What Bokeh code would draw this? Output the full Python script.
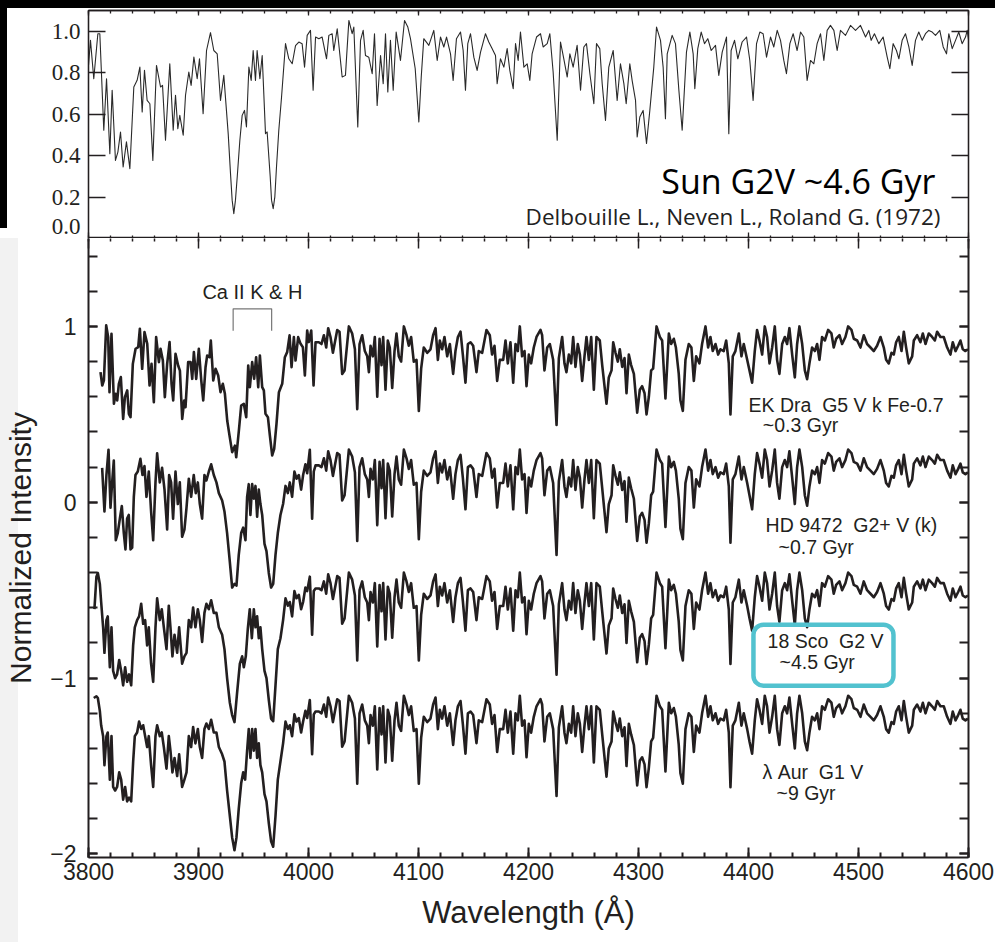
from bokeh.plotting import figure
from bokeh.models import (Range1d, LinearAxis, SingleIntervalTicker, FixedTicker,
                          CustomJSTickFormatter, BoxAnnotation, Div, Label)
from bokeh.layouts import column, row
from bokeh.embed import file_html
from bokeh.resources import INLINE

# ---------------- DATA ----------------
# Solar atlas (top panel), wavelength in Angstrom, normalized flux
sun_wl = [
    3800.0, 3801.8, 3804.8, 3808.5, 3810.3, 3813.9, 3816.4, 3819.4, 3821.5, 3824.5,
    3826.7, 3829.1, 3831.5, 3834.5, 3837.6, 3841.2, 3844.2, 3846.7, 3848.8, 3850.9,
    3853.3, 3855.8, 3858.5, 3861.8, 3865.5, 3867.3, 3870.0, 3873.9, 3877.0, 3879.1,
    3881.2, 3883.0, 3886.1, 3888.2, 3891.2, 3893.3, 3895.8, 3898.8, 3900.9, 3904.2,
    3907.3, 3910.9, 3913.9, 3917.0, 3920.0, 3923.0, 3927.0, 3929.1, 3930.6, 3932.1,
    3933.6, 3935.2, 3937.6, 3939.7, 3941.8, 3943.6, 3945.8, 3947.9, 3949.7, 3951.8,
    3953.3, 3955.8, 3957.9, 3960.9, 3962.4, 3965.2, 3966.4, 3967.9, 3969.4, 3970.9,
    3973.0, 3975.5, 3979.1, 3982.1, 3985.2, 3988.2, 3991.2, 3994.2, 3996.4, 3998.8,
    4001.8, 4004.2, 4006.4, 4009.4, 4012.4, 4016.4, 4018.5, 4021.5, 4023.0, 4026.1,
    4030.6, 4033.6, 4036.7, 4039.7, 4041.2, 4044.8, 4047.3, 4049.7, 4051.8, 4054.8,
    4057.9, 4060.0, 4062.4, 4065.5, 4067.9, 4070.0, 4072.1, 4074.5, 4077.0, 4079.7,
    4083.6, 4087.3, 4090.3, 4092.7, 4097.0, 4100.3, 4102.5, 4104.8, 4109.4, 4113.9,
    4117.0, 4120.0, 4123.0, 4125.5, 4129.1, 4131.5, 4134.5, 4138.2, 4140.6, 4142.7,
    4144.8, 4147.3, 4150.3, 4153.3, 4156.4, 4160.9, 4163.9, 4167.0, 4170.0, 4171.5,
    4174.5, 4177.6, 4180.6, 4183.0, 4186.1, 4188.2, 4190.6, 4192.7, 4195.8, 4198.8,
    4201.2, 4203.3, 4207.3, 4210.9, 4213.3, 4217.0, 4219.4, 4222.4, 4226.1, 4229.1,
    4232.1, 4235.2, 4237.6, 4240.6, 4244.2, 4247.3, 4250.3, 4252.7, 4255.8, 4259.4,
    4261.8, 4264.8, 4267.0, 4270.0, 4273.0, 4277.0, 4280.6, 4283.6, 4286.7, 4288.8,
    4292.1, 4294.2, 4297.3, 4298.8, 4301.2, 4304.2, 4307.3, 4310.3, 4313.9, 4316.4,
    4320.0, 4322.4, 4324.5, 4326.1, 4330.6, 4333.6, 4336.7, 4339.7, 4343.6, 4346.7,
    4349.7, 4351.2, 4353.9, 4357.0, 4360.0, 4363.0, 4366.1, 4370.0, 4373.0, 4376.1,
    4380.0, 4382.1, 4384.2, 4387.3, 4390.3, 4394.2, 4398.2, 4401.2, 4404.2, 4407.3,
    4410.3, 4413.3, 4416.4, 4420.0, 4423.0, 4426.1, 4429.1, 4432.1, 4434.5, 4437.6,
    4440.6, 4444.2, 4447.3, 4450.3, 4453.3, 4456.4, 4459.4, 4462.4, 4465.5, 4468.5,
    4471.5, 4474.5, 4477.6, 4480.6, 4483.6, 4488.2, 4492.7, 4497.3, 4501.8, 4506.4,
    4509.4, 4511.5, 4514.5, 4518.5, 4522.4, 4526.1, 4528.5, 4531.5, 4534.5, 4536.7,
    4539.7, 4542.7, 4545.8, 4548.8, 4551.8, 4554.8, 4557.9, 4560.9, 4563.9, 4567.0,
    4570.0, 4573.9, 4577.0, 4580.0, 4582.1, 4585.2, 4588.2, 4591.2, 4594.2, 4597.3,
    4598.8, 4600.0,
]
sun_flux = [
    0.835, 0.956, 0.771, 0.988, 0.988, 0.522, 0.771, 0.409, 0.715, 0.377,
    0.417, 0.514, 0.345, 0.466, 0.337, 0.731, 0.763, 0.827, 0.610, 0.811,
    0.666, 0.650, 0.377, 0.835, 0.731, 0.739, 0.474, 0.843, 0.522, 0.691,
    0.530, 0.594, 0.498, 0.691, 0.803, 0.739, 0.875, 0.771, 0.867, 0.602,
    0.907, 0.993, 0.907, 0.891, 0.666, 0.787, 0.506, 0.313, 0.185, 0.120,
    0.185, 0.297, 0.474, 0.594, 0.618, 0.538, 0.827, 0.763, 0.907, 0.763,
    0.907, 0.771, 0.883, 0.506, 0.514, 0.297, 0.185, 0.144, 0.201, 0.345,
    0.522, 0.683, 0.940, 0.867, 0.843, 0.931, 0.948, 0.940, 0.827, 0.980,
    1.004, 0.715, 0.972, 0.964, 0.972, 0.867, 0.980, 0.988, 0.907, 1.012,
    0.779, 0.787, 1.052, 0.988, 1.020, 0.538, 0.956, 1.004, 0.883, 0.875,
    0.795, 0.988, 0.642, 0.883, 0.747, 0.988, 0.707, 0.956, 0.715, 0.996,
    0.859, 1.052, 1.020, 0.964, 0.820, 0.562, 0.780, 0.964, 0.932, 1.004,
    0.859, 0.972, 0.924, 0.972, 0.891, 0.763, 0.964, 0.996, 0.907, 0.715,
    0.940, 0.988, 0.875, 0.811, 0.899, 0.988, 0.948, 0.916, 0.883, 0.747,
    0.867, 0.827, 0.916, 0.811, 0.723, 0.940, 0.859, 0.996, 0.827, 0.843,
    0.763, 0.891, 0.972, 0.988, 0.924, 0.940, 0.988, 0.803, 0.474, 0.948,
    0.867, 0.779, 0.891, 0.827, 0.932, 0.715, 0.924, 0.940, 0.795, 0.650,
    0.940, 0.916, 0.747, 0.570, 0.827, 0.907, 0.666, 0.843, 0.747, 0.650,
    0.843, 0.763, 0.666, 0.490, 0.586, 0.618, 0.458, 0.618, 0.827, 1.020,
    0.956, 0.827, 0.578, 0.891, 0.980, 0.940, 0.715, 0.522, 0.899, 0.996,
    0.891, 0.723, 0.916, 0.996, 0.940, 0.964, 0.907, 0.932, 0.787, 0.899,
    0.972, 0.506, 0.907, 0.956, 0.867, 0.948, 0.972, 0.859, 0.666, 0.940,
    0.996, 0.988, 0.875, 0.972, 0.924, 1.004, 0.956, 0.859, 0.795, 0.940,
    0.988, 0.907, 0.996, 0.972, 0.763, 0.859, 0.843, 0.940, 0.988, 0.859,
    1.004, 1.028, 1.004, 0.907, 1.004, 0.980, 1.028, 1.004, 1.028, 0.972,
    1.004, 0.956, 0.988, 0.940, 0.972, 0.875, 0.819, 0.940, 0.907, 0.867,
    0.956, 0.988, 0.924, 0.835, 0.956, 0.996, 0.956, 0.988, 1.004, 0.996,
    0.980, 1.004, 0.924, 0.891, 0.988, 0.916, 0.956, 0.996, 0.940, 0.972,
    1.004, 0.960,
]

# Stellar spectra (bottom panel) - blue part, each star read separately
ek_blue_wl = [
    3810.9, 3812.5, 3814.0, 3816.1, 3817.9, 3819.1, 3820.9, 3823.1, 3824.6, 3826.1,
    3827.6, 3829.4, 3831.5, 3833.1, 3835.2, 3836.7, 3838.2, 3840.3, 3842.8, 3845.2,
    3846.7, 3848.8, 3850.9, 3853.4, 3855.5, 3857.3, 3859.4, 3861.5, 3864.0, 3865.5,
    3867.6, 3869.4, 3871.5, 3873.7, 3875.5, 3877.0, 3879.1, 3881.5, 3883.1, 3885.2,
    3887.0, 3888.2, 3890.6, 3892.8, 3894.3, 3895.8, 3897.9, 3900.3, 3902.5, 3904.3,
    3906.4, 3907.9, 3910.0, 3911.2, 3913.4, 3915.5, 3917.9, 3920.0, 3922.1, 3924.0,
    3926.1, 3928.2, 3930.6, 3933.1, 3934.3, 3936.7, 3938.8, 3941.2, 3943.4, 3945.2,
    3946.7, 3948.8, 3950.6, 3952.4, 3954.3, 3955.8, 3957.9, 3959.4, 3960.9, 3963.1,
    3964.9, 3967.0, 3968.8, 3970.9, 3973.1, 3976.1, 3978.5, 3980.6, 3982.8, 3984.6,
    3986.7, 3988.2, 3990.6, 3992.8, 3994.9, 3996.7, 3998.8, 4000.3, 4002.5, 4004.6,
]
ek_blue_flux = [
    0.740, 0.664, 0.693, 1.006, 0.939, 0.626, 0.958, 0.560, 0.617, 0.579,
    0.674, 0.712, 0.474, 0.598, 0.636, 0.503, 0.484, 0.787, 0.873, 0.882,
    0.987, 0.759, 0.968, 0.901, 0.664, 0.787, 0.569, 0.939, 0.797, 0.873,
    0.806, 0.598, 0.787, 0.911, 0.674, 0.579, 0.844, 0.778, 0.749, 0.474,
    0.579, 0.541, 0.797, 0.797, 0.702, 0.854, 0.702, 0.873, 0.693, 0.579,
    0.768, 0.835, 0.825, 0.920, 0.693, 0.759, 0.721, 0.626, 0.674, 0.617,
    0.465, 0.379, 0.285, 0.322, 0.256, 0.408, 0.550, 0.560, 0.484, 0.778,
    0.655, 0.797, 0.702, 0.825, 0.655, 0.835, 0.655, 0.636, 0.503, 0.484,
    0.379, 0.266, 0.304, 0.446, 0.626, 0.674, 0.825, 0.854, 0.949, 0.768,
    0.939, 0.806, 0.939, 0.901, 0.882, 0.721, 0.977, 0.911, 0.977, 0.664,
]
hd_blue_wl = [
    3812.4, 3814.5, 3816.3, 3818.2, 3820.0, 3821.5, 3823.0, 3824.8, 3826.6, 3828.5,
    3830.3, 3832.1, 3833.6, 3835.1, 3836.6, 3838.2, 3839.7, 3841.2, 3842.7, 3844.8,
    3847.2, 3849.1, 3850.9, 3852.7, 3854.8, 3856.9, 3858.8, 3860.9, 3862.4, 3864.8,
    3866.9, 3869.1, 3871.5, 3873.3, 3875.1, 3876.9, 3879.1, 3881.2, 3883.0, 3885.1,
    3887.2, 3889.1, 3891.2, 3893.3, 3895.7, 3897.5, 3899.4, 3901.2, 3903.3, 3905.4,
    3907.2, 3909.4, 3911.5, 3913.9, 3916.3, 3918.5, 3921.5, 3923.6, 3926.0, 3928.5,
    3930.6, 3932.7, 3934.5, 3936.6, 3938.8, 3940.6, 3942.7, 3944.2, 3945.7, 3947.2,
    3948.8, 3950.3, 3951.8, 3953.3, 3954.8, 3956.3, 3957.9, 3960.0, 3961.8, 3963.9,
    3966.0, 3967.9, 3970.0, 3972.1, 3974.5, 3976.9, 3979.1, 3981.2, 3983.0, 3985.1,
    3987.2, 3989.1, 3991.2, 3993.3, 3995.1, 3997.2, 3998.8, 4001.2, 4003.3, 4004.8,
]
hd_blue_flux = [
    0.196, -0.052, 0.155, 0.299, -0.031, 0.113, 0.237, -0.216, -0.175, -0.093,
    -0.021, -0.175, -0.268, -0.093, -0.072, -0.268, -0.258, 0.031, 0.155, 0.175,
    0.247, 0.155, 0.206, 0.031, 0.175, -0.052, -0.216, 0.113, 0.278, 0.113,
    0.196, 0.072, -0.155, 0.155, 0.113, -0.093, 0.175, -0.010, 0.113, -0.196,
    -0.155, -0.031, 0.134, 0.031, 0.155, 0.052, 0.113, -0.010, -0.093, 0.155,
    0.124, 0.175, 0.216, 0.155, 0.113, 0.052, 0.010, -0.052, -0.175, -0.340,
    -0.485, -0.464, -0.474, -0.299, -0.175, -0.144, -0.216, 0.031, 0.103, -0.072,
    0.103, 0.021, 0.093, -0.082, 0.072, -0.010, -0.072, -0.237, -0.278, -0.402,
    -0.485, -0.464, -0.299, -0.175, -0.072, -0.010, 0.093, 0.052, 0.113, 0.031,
    0.175, 0.134, 0.155, 0.072, 0.155, 0.216, 0.165, 0.299, -0.093, 0.175,
]
sco_blue_wl = [
    3805.4, 3807.2, 3808.5, 3810.3, 3811.5, 3813.3, 3814.5, 3816.3, 3817.5, 3819.4,
    3820.9, 3822.4, 3824.2, 3826.0, 3827.9, 3829.7, 3831.5, 3833.3, 3835.1, 3836.9,
    3838.8, 3840.6, 3842.1, 3844.2, 3846.0, 3847.9, 3849.7, 3851.5, 3853.3, 3854.8,
    3856.9, 3858.8, 3860.9, 3862.4, 3864.8, 3866.6, 3868.5, 3870.9, 3873.0, 3874.5,
    3876.3, 3878.2, 3880.6, 3882.4, 3885.1, 3887.2, 3889.1, 3891.2, 3893.3, 3895.1,
    3897.2, 3899.4, 3901.2, 3903.3, 3905.4, 3907.2, 3909.4, 3911.5, 3913.9, 3916.3,
    3918.5, 3921.5, 3923.6, 3926.0, 3928.5, 3930.6, 3932.7, 3935.1, 3937.6, 3939.7,
    3941.2, 3943.0, 3944.8, 3946.6, 3948.5, 3950.3, 3951.8, 3953.3, 3954.8, 3956.3,
    3957.9, 3960.0, 3961.8, 3963.9, 3966.0, 3967.9, 3970.0, 3972.1, 3974.5, 3976.9,
    3979.1, 3981.2, 3983.0, 3985.1, 3987.2, 3989.1, 3991.2, 3993.3, 3995.1, 3997.2,
    3998.8, 4001.2, 4003.3, 4004.8,
]
sco_blue_flux = [
    -0.608, -0.423, -0.402, -0.464, -0.567, -0.711, -0.856, -0.670, -0.649, -0.938,
    -0.711, -0.959, -1.000, -0.979, -0.897, -0.959, -1.041, -0.938, -1.021, -0.979,
    -1.041, -0.814, -0.711, -0.670, -0.649, -0.577, -0.691, -0.670, -0.814, -0.711,
    -0.918, -1.021, -0.711, -0.546, -0.670, -0.608, -0.711, -0.835, -0.588, -0.711,
    -0.876, -0.753, -0.856, -0.711, -0.918, -0.876, -0.856, -0.670, -0.711, -0.598,
    -0.711, -0.608, -0.670, -0.794, -0.629, -0.577, -0.608, -0.557, -0.629, -0.629,
    -0.711, -0.753, -0.835, -1.000, -1.140, -1.210, -1.250, -1.082, -0.918, -0.876,
    -0.938, -0.876, -0.722, -0.608, -0.773, -0.608, -0.711, -0.649, -0.773, -0.711,
    -0.835, -0.959, -1.000, -1.124, -1.230, -1.245, -1.041, -0.835, -0.773, -0.670,
    -0.546, -0.588, -0.567, -0.649, -0.505, -0.546, -0.526, -0.608, -0.567, -0.485,
    -0.505, -0.423, -0.753, -0.505,
]
aur_blue_wl = [
    3804.8, 3807.2, 3808.5, 3810.3, 3811.5, 3813.3, 3814.5, 3816.3, 3817.5, 3819.4,
    3820.9, 3822.4, 3824.2, 3826.0, 3827.9, 3829.7, 3831.5, 3833.3, 3835.1, 3836.9,
    3838.8, 3840.6, 3842.1, 3844.2, 3846.0, 3847.9, 3849.7, 3851.5, 3853.3, 3854.8,
    3856.9, 3858.8, 3860.9, 3862.4, 3864.8, 3866.6, 3868.5, 3870.9, 3873.0, 3874.5,
    3876.3, 3878.2, 3880.6, 3882.4, 3885.1, 3887.2, 3889.1, 3891.2, 3893.3, 3895.1,
    3897.2, 3899.4, 3901.2, 3903.3, 3905.4, 3907.2, 3909.4, 3911.5, 3913.9, 3916.3,
    3918.5, 3921.5, 3923.6, 3926.0, 3928.5, 3930.6, 3932.7, 3934.5, 3936.6, 3938.8,
    3940.6, 3942.4, 3944.2, 3945.7, 3947.2, 3948.8, 3950.3, 3951.8, 3953.3, 3954.8,
    3956.3, 3957.9, 3960.0, 3961.8, 3963.9, 3966.0, 3967.9, 3970.0, 3972.1, 3974.5,
    3976.9, 3979.1, 3981.2, 3983.0, 3985.1, 3987.2, 3989.1, 3991.2, 3993.3, 3995.1,
    3997.2, 3998.8, 4001.2, 4003.3, 4004.8,
]
aur_blue_flux = [
    -1.113, -1.103, -1.113, -1.186, -1.268, -1.330, -1.495, -1.330, -1.309, -1.577,
    -1.330, -1.619, -1.639, -1.619, -1.536, -1.577, -1.691, -1.619, -1.701, -1.680,
    -1.701, -1.474, -1.330, -1.309, -1.247, -1.289, -1.268, -1.330, -1.392, -1.330,
    -1.495, -1.619, -1.330, -1.268, -1.330, -1.309, -1.392, -1.515, -1.330, -1.412,
    -1.536, -1.454, -1.557, -1.433, -1.619, -1.577, -1.536, -1.330, -1.392, -1.278,
    -1.371, -1.289, -1.392, -1.454, -1.289, -1.258, -1.289, -1.237, -1.309, -1.309,
    -1.392, -1.433, -1.474, -1.639, -1.784, -1.907, -1.979, -1.907, -1.742, -1.598,
    -1.536, -1.577, -1.412, -1.289, -1.454, -1.289, -1.412, -1.289, -1.454, -1.371,
    -1.495, -1.536, -1.660, -1.701, -1.825, -1.928, -1.959, -1.784, -1.577, -1.474,
    -1.371, -1.247, -1.289, -1.268, -1.330, -1.206, -1.247, -1.227, -1.309, -1.247,
    -1.186, -1.227, -1.124, -1.433, -1.206,
]

# Red part (>= 4006 A), common wavelength sampling, one flux list per star
red_wl = [
    4006.4, 4009.4, 4011.8, 4014.0, 4016.1, 4017.9, 4020.0, 4022.2, 4024.0, 4026.1,
    4028.2, 4030.6, 4032.8, 4036.7, 4039.7, 4042.2, 4044.3, 4046.4, 4048.8, 4051.2,
    4053.4, 4054.9, 4056.4, 4058.5, 4060.3, 4062.5, 4064.6, 4066.4, 4067.9, 4070.0,
    4072.1, 4073.9, 4076.1, 4078.2, 4080.0, 4082.1, 4084.2, 4086.7, 4089.1, 4091.2,
    4093.3, 4095.7, 4098.2, 4100.3, 4102.4, 4104.8, 4107.9, 4110.9, 4113.3, 4115.5,
    4117.6, 4119.4, 4121.5, 4123.6, 4126.1, 4128.5, 4131.5, 4133.6, 4135.8, 4138.2,
    4140.3, 4142.7, 4144.9, 4147.3, 4149.7, 4152.7, 4154.8, 4157.9, 4160.0, 4161.8,
    4164.8, 4166.9, 4169.1, 4171.5, 4173.9, 4177.0, 4179.1, 4181.2, 4183.6, 4186.1,
    4188.2, 4190.3, 4192.1, 4194.2, 4196.4, 4198.2, 4200.3, 4202.4, 4204.8, 4207.3,
    4210.9, 4212.4, 4214.5, 4217.0, 4219.4, 4222.4, 4225.5, 4227.6, 4230.6, 4232.7,
    4234.5, 4236.7, 4238.8, 4240.6, 4242.7, 4244.8, 4246.7, 4248.8, 4250.9, 4252.7,
    4254.9, 4257.0, 4259.4, 4261.8, 4264.8, 4267.0, 4270.9, 4273.0, 4275.5, 4277.0,
    4279.1, 4281.2, 4283.0, 4285.2, 4287.3, 4289.1, 4291.2, 4293.3, 4295.8, 4298.8,
    4301.2, 4303.3, 4305.5, 4307.3, 4309.4, 4311.5, 4313.3, 4316.4, 4319.4, 4321.5,
    4324.5, 4327.6, 4329.7, 4332.1, 4334.0, 4336.6, 4338.1, 4340.3, 4342.7, 4345.7,
    4348.1, 4350.3, 4352.4, 4355.4, 4357.8, 4360.9, 4363.3, 4365.4, 4367.5, 4370.0,
    4372.4, 4374.5, 4377.5, 4379.7, 4382.1, 4383.6, 4385.7, 4388.1, 4391.2, 4393.6,
    4395.7, 4398.8, 4400.9, 4403.3, 4405.7, 4407.8, 4410.0, 4412.4, 4414.8, 4416.9,
    4419.1, 4421.5, 4423.9, 4426.0, 4428.1, 4430.6, 4433.0, 4435.1, 4437.2, 4439.7,
    4442.1, 4444.2, 4446.3, 4448.8, 4451.2, 4453.3, 4455.4, 4457.8, 4460.3, 4462.4,
    4464.5, 4466.9, 4469.4, 4472.4, 4475.4, 4477.5, 4479.7, 4482.7, 4485.1, 4488.1,
    4490.6, 4493.6, 4495.7, 4498.8, 4501.8, 4504.8, 4507.8, 4510.9, 4513.9, 4516.9,
    4520.0, 4523.0, 4525.1, 4527.5, 4530.0, 4532.1, 4534.2, 4536.6, 4539.1, 4541.2,
    4543.3, 4545.7, 4548.8, 4550.3, 4553.3, 4556.3, 4558.5, 4560.9, 4563.9, 4566.9,
    4569.4, 4571.5, 4574.5, 4577.5, 4580.6, 4583.6, 4585.7, 4588.2, 4590.6, 4592.7,
    4594.8, 4597.2, 4599.5,
]
ek_red_flux = [
    0.91, 0.91, 0.90, 0.95, 0.88, 0.99, 0.94, 0.85, 0.91, 0.98,
    0.97, 0.73, 0.75, 1.00, 0.96, 0.87, 0.53, 0.90, 0.95, 0.86,
    0.83, 0.74, 0.89, 0.83, 0.94, 0.60, 0.93, 0.78, 0.94, 0.64,
    0.92, 0.88, 0.65, 0.86, 0.96, 0.83, 0.80, 1.00, 0.95, 0.89,
    0.94, 0.80, 0.81, 0.52, 0.76, 0.88, 0.85, 0.87, 0.95, 0.99,
    0.81, 0.92, 0.87, 0.94, 0.83, 0.90, 0.73, 0.86, 0.94, 0.97,
    0.84, 0.68, 0.90, 0.91, 0.89, 0.74, 0.86, 0.85, 0.92, 0.98,
    0.95, 0.84, 0.89, 0.69, 0.81, 0.81, 0.92, 0.79, 0.91, 0.68,
    0.90, 0.86, 1.00, 0.83, 0.86, 0.66, 0.84, 0.79, 0.88, 0.94,
    0.98, 0.95, 0.75, 0.88, 0.90, 0.81, 0.44, 0.82, 0.94, 0.79,
    0.74, 0.84, 0.79, 0.94, 0.77, 0.90, 0.84, 0.69, 0.83, 0.94,
    0.81, 0.94, 0.64, 0.94, 0.92, 0.78, 0.56, 0.71, 0.75, 0.91,
    0.85, 0.80, 0.87, 0.77, 0.82, 0.62, 0.84, 0.78, 0.73, 0.51,
    0.64, 0.66, 0.62, 0.50, 0.60, 0.75, 0.76, 1.00, 0.94, 0.92,
    0.59, 0.96, 0.90, 0.93, 0.88, 0.73, 0.58, 0.52, 0.81, 0.90,
    0.88, 0.69, 0.83, 0.79, 0.90, 1.00, 0.88, 0.94, 0.86, 0.90,
    0.84, 0.87, 0.86, 0.92, 0.79, 0.50, 0.83, 0.86, 0.96, 0.83,
    0.90, 0.81, 0.75, 0.68, 0.86, 0.98, 0.92, 0.84, 1.00, 0.94,
    0.79, 0.88, 1.00, 0.81, 0.73, 0.90, 0.94, 0.90, 0.99, 0.84,
    0.71, 0.90, 1.00, 0.90, 0.75, 0.70, 0.79, 0.88, 0.86, 0.90,
    0.81, 0.94, 0.92, 0.98, 0.96, 0.88, 0.93, 0.95, 0.90, 0.94,
    1.00, 0.98, 0.93, 0.92, 0.88, 0.95, 0.90, 0.88, 0.86, 0.89,
    0.94, 0.88, 0.81, 0.79, 0.85, 0.84, 0.91, 0.94, 0.86, 0.97,
    0.88, 0.79, 0.83, 0.92, 0.95, 0.91, 0.96, 0.90, 0.96, 0.94,
    0.92, 0.97, 0.94, 0.94, 0.88, 0.84, 0.91, 0.86, 0.89, 0.92,
    0.87, 0.86, 0.87,
]
hd_red_flux = [
    0.21, 0.21, 0.20, 0.25, 0.18, 0.29, 0.24, 0.15, 0.21, 0.28,
    0.27, 0.01, 0.04, 0.30, 0.26, 0.17, -0.22, 0.20, 0.25, 0.16,
    0.13, 0.03, 0.19, 0.13, 0.24, -0.13, 0.23, 0.08, 0.24, -0.09,
    0.22, 0.18, -0.08, 0.16, 0.26, 0.13, 0.10, 0.30, 0.25, 0.19,
    0.24, 0.10, 0.11, -0.21, 0.06, 0.18, 0.15, 0.17, 0.25, 0.29,
    0.11, 0.22, 0.17, 0.24, 0.13, 0.20, 0.02, 0.16, 0.24, 0.27,
    0.14, -0.04, 0.20, 0.21, 0.19, 0.03, 0.16, 0.15, 0.22, 0.28,
    0.25, 0.14, 0.19, -0.03, 0.11, 0.11, 0.22, 0.09, 0.21, -0.04,
    0.20, 0.16, 0.30, 0.13, 0.16, -0.06, 0.14, 0.09, 0.18, 0.24,
    0.28, 0.25, 0.04, 0.18, 0.20, 0.11, -0.30, 0.12, 0.24, 0.09,
    0.03, 0.14, 0.09, 0.24, 0.07, 0.20, 0.14, -0.03, 0.13, 0.24,
    0.11, 0.24, -0.09, 0.24, 0.22, 0.08, -0.17, -0.01, 0.04, 0.21,
    0.15, 0.10, 0.17, 0.07, 0.12, -0.11, 0.14, 0.08, 0.02, -0.22,
    -0.08, -0.06, -0.10, -0.23, -0.12, 0.04, 0.06, 0.30, 0.24, 0.22,
    -0.14, 0.26, 0.20, 0.23, 0.18, 0.02, -0.15, -0.21, 0.11, 0.20,
    0.18, -0.03, 0.13, 0.09, 0.20, 0.30, 0.18, 0.24, 0.16, 0.20,
    0.14, 0.17, 0.16, 0.22, 0.09, -0.23, 0.13, 0.16, 0.26, 0.13,
    0.20, 0.11, 0.04, -0.04, 0.16, 0.28, 0.22, 0.14, 0.30, 0.24,
    0.09, 0.18, 0.30, 0.11, 0.02, 0.20, 0.24, 0.20, 0.29, 0.14,
    -0.01, 0.20, 0.30, 0.20, 0.04, -0.02, 0.09, 0.18, 0.16, 0.20,
    0.11, 0.24, 0.22, 0.28, 0.26, 0.18, 0.23, 0.25, 0.20, 0.24,
    0.30, 0.28, 0.23, 0.22, 0.18, 0.25, 0.20, 0.18, 0.16, 0.19,
    0.24, 0.18, 0.11, 0.09, 0.15, 0.14, 0.21, 0.24, 0.16, 0.27,
    0.18, 0.09, 0.13, 0.22, 0.25, 0.21, 0.26, 0.20, 0.26, 0.24,
    0.22, 0.27, 0.24, 0.24, 0.18, 0.14, 0.21, 0.16, 0.19, 0.22,
    0.17, 0.16, 0.17,
]
sco_red_flux = [
    -0.49, -0.49, -0.50, -0.45, -0.52, -0.41, -0.46, -0.55, -0.49, -0.42,
    -0.43, -0.69, -0.66, -0.40, -0.44, -0.53, -0.90, -0.50, -0.45, -0.54,
    -0.57, -0.67, -0.51, -0.57, -0.46, -0.82, -0.47, -0.62, -0.46, -0.78,
    -0.48, -0.52, -0.77, -0.54, -0.44, -0.57, -0.60, -0.40, -0.45, -0.51,
    -0.46, -0.60, -0.59, -0.90, -0.64, -0.52, -0.55, -0.53, -0.45, -0.41,
    -0.59, -0.48, -0.53, -0.46, -0.57, -0.50, -0.68, -0.54, -0.46, -0.43,
    -0.56, -0.73, -0.50, -0.49, -0.51, -0.67, -0.54, -0.55, -0.48, -0.42,
    -0.45, -0.56, -0.51, -0.72, -0.59, -0.59, -0.48, -0.61, -0.49, -0.73,
    -0.50, -0.54, -0.40, -0.57, -0.54, -0.75, -0.56, -0.61, -0.52, -0.46,
    -0.42, -0.45, -0.66, -0.52, -0.50, -0.59, -0.98, -0.58, -0.46, -0.61,
    -0.67, -0.56, -0.61, -0.46, -0.63, -0.50, -0.56, -0.72, -0.57, -0.46,
    -0.59, -0.46, -0.78, -0.46, -0.48, -0.62, -0.86, -0.70, -0.66, -0.49,
    -0.55, -0.60, -0.53, -0.63, -0.58, -0.80, -0.56, -0.62, -0.68, -0.91,
    -0.77, -0.75, -0.79, -0.92, -0.81, -0.66, -0.64, -0.40, -0.46, -0.48,
    -0.83, -0.44, -0.50, -0.47, -0.52, -0.68, -0.84, -0.90, -0.59, -0.50,
    -0.52, -0.72, -0.57, -0.61, -0.50, -0.40, -0.52, -0.46, -0.54, -0.50,
    -0.56, -0.53, -0.54, -0.48, -0.61, -0.92, -0.57, -0.54, -0.44, -0.57,
    -0.50, -0.59, -0.66, -0.73, -0.54, -0.42, -0.48, -0.56, -0.40, -0.46,
    -0.61, -0.52, -0.40, -0.59, -0.68, -0.50, -0.46, -0.50, -0.41, -0.56,
    -0.70, -0.50, -0.40, -0.50, -0.66, -0.71, -0.61, -0.52, -0.54, -0.50,
    -0.59, -0.46, -0.48, -0.42, -0.44, -0.52, -0.47, -0.45, -0.50, -0.46,
    -0.40, -0.42, -0.47, -0.48, -0.52, -0.45, -0.50, -0.52, -0.54, -0.51,
    -0.46, -0.52, -0.59, -0.61, -0.55, -0.56, -0.49, -0.46, -0.54, -0.43,
    -0.52, -0.61, -0.57, -0.48, -0.45, -0.49, -0.44, -0.50, -0.44, -0.46,
    -0.48, -0.43, -0.46, -0.46, -0.52, -0.56, -0.49, -0.54, -0.51, -0.48,
    -0.53, -0.54, -0.53,
]
aur_red_flux = [
    -1.19, -1.19, -1.20, -1.15, -1.22, -1.11, -1.16, -1.25, -1.19, -1.12,
    -1.13, -1.39, -1.36, -1.10, -1.14, -1.23, -1.60, -1.20, -1.15, -1.24,
    -1.27, -1.37, -1.21, -1.27, -1.16, -1.52, -1.17, -1.32, -1.16, -1.48,
    -1.18, -1.22, -1.47, -1.24, -1.14, -1.27, -1.30, -1.10, -1.15, -1.21,
    -1.16, -1.30, -1.29, -1.60, -1.34, -1.22, -1.25, -1.23, -1.15, -1.11,
    -1.29, -1.18, -1.23, -1.16, -1.27, -1.20, -1.38, -1.24, -1.16, -1.13,
    -1.26, -1.43, -1.20, -1.19, -1.21, -1.37, -1.24, -1.25, -1.18, -1.12,
    -1.15, -1.26, -1.21, -1.42, -1.29, -1.29, -1.18, -1.31, -1.19, -1.43,
    -1.20, -1.24, -1.10, -1.27, -1.24, -1.45, -1.26, -1.31, -1.22, -1.16,
    -1.12, -1.15, -1.36, -1.22, -1.20, -1.29, -1.67, -1.28, -1.16, -1.31,
    -1.37, -1.26, -1.31, -1.16, -1.33, -1.20, -1.26, -1.42, -1.27, -1.16,
    -1.29, -1.16, -1.48, -1.16, -1.18, -1.32, -1.56, -1.40, -1.36, -1.19,
    -1.25, -1.30, -1.23, -1.33, -1.28, -1.50, -1.26, -1.32, -1.38, -1.61,
    -1.47, -1.45, -1.49, -1.62, -1.51, -1.36, -1.34, -1.10, -1.16, -1.18,
    -1.53, -1.14, -1.20, -1.17, -1.22, -1.38, -1.54, -1.60, -1.29, -1.20,
    -1.22, -1.42, -1.27, -1.31, -1.20, -1.10, -1.22, -1.16, -1.24, -1.20,
    -1.26, -1.23, -1.24, -1.18, -1.31, -1.62, -1.27, -1.24, -1.14, -1.27,
    -1.20, -1.29, -1.36, -1.43, -1.24, -1.12, -1.18, -1.26, -1.10, -1.16,
    -1.31, -1.22, -1.10, -1.29, -1.38, -1.20, -1.16, -1.20, -1.11, -1.26,
    -1.40, -1.20, -1.10, -1.20, -1.36, -1.41, -1.31, -1.22, -1.24, -1.20,
    -1.29, -1.16, -1.18, -1.12, -1.14, -1.22, -1.17, -1.15, -1.20, -1.16,
    -1.10, -1.12, -1.17, -1.18, -1.22, -1.15, -1.20, -1.22, -1.24, -1.21,
    -1.16, -1.22, -1.29, -1.31, -1.25, -1.26, -1.19, -1.16, -1.24, -1.13,
    -1.22, -1.31, -1.27, -1.18, -1.15, -1.19, -1.14, -1.20, -1.14, -1.16,
    -1.18, -1.13, -1.16, -1.16, -1.22, -1.26, -1.19, -1.24, -1.21, -1.18,
    -1.23, -1.24, -1.23,
]

star_names = ["EK Dra\u00a0 G5 V k Fe-0.7", "HD 9472\u00a0 G2+ V (k)",
              "18 Sco\u00a0 G2 V", "\u03bb Aur\u00a0 G1 V"]
star_ages = ["~0.3 Gyr", "~0.7 Gyr", "~4.5 Gyr", "~9 Gyr"]
caii_wl = [3931.5, 3966.5]   # Ca II K & H marker positions
sun_yticks = [0.2, 0.4, 0.6, 0.8, 1.0]
x_ticks_major = 100
x_ticks_minor = 5

# ---------------- STYLE HELPERS ----------------
INK = "#231f20"


def style_axis(a, ticker, major_in, minor_in, lw, font_size=None,
               font="Liberation Sans", standoff=0, line=True, ticks=True):
    a.ticker = ticker
    a.major_tick_in = major_in
    a.major_tick_out = 0
    a.minor_tick_in = minor_in
    a.minor_tick_out = 0
    a.axis_line_color = INK if line else None
    a.axis_line_width = lw
    a.major_tick_line_color = INK if ticks else None
    a.major_tick_line_width = lw
    a.minor_tick_line_color = INK if (ticks and minor_in > 0) else None
    a.minor_tick_line_width = lw
    a.major_label_text_font = font
    a.major_label_standoff = standoff
    if font_size is None:
        a.major_label_text_font_size = "0px"
        a.major_label_text_color = None
    else:
        a.major_label_text_font_size = font_size
        a.major_label_text_color = INK


def pair(w, f):
    n = min(len(w), len(f))
    return list(w[:n]), list(f[:n])


# ---------------- TOP PANEL (Sun) ----------------
top = figure(width=988, height=230, x_range=Range1d(3800, 4600), y_range=Range1d(0, 1.1),
             output_backend="svg", toolbar_location=None,
             min_border_left=81, min_border_right=27, min_border_top=2, min_border_bottom=0,
             outline_line_color=INK, outline_line_width=1.3, background_fill_color="white",
             border_fill_color="white")
top.xgrid.grid_line_color = None
top.ygrid.grid_line_color = None
style_axis(top.xaxis[0], SingleIntervalTicker(interval=x_ticks_major, num_minor_ticks=x_ticks_minor), 6, 3, 1.3)
# tick marks only (closest to the frame)
style_axis(top.yaxis[0], FixedTicker(ticks=sun_yticks, minor_ticks=[]), 17, 0, 1.3)
# labels only; the 0.0 label sits just above the frame bottom as in the original
ay_lab = LinearAxis()
style_axis(ay_lab, FixedTicker(ticks=[0.058] + sun_yticks, minor_ticks=[]), 0, 0, 1.3,
           font_size="23px", font="Liberation Serif", standoff=8, line=False, ticks=False)
ay_lab.formatter = CustomJSTickFormatter(code="return tick < 0.1 ? '0.0' : tick.toFixed(1);")
top.add_layout(ay_lab, "left")
ax_top = LinearAxis()
style_axis(ax_top, SingleIntervalTicker(interval=x_ticks_major, num_minor_ticks=x_ticks_minor), 5, 3, 1.3)
top.add_layout(ax_top, "above")
ay_top = LinearAxis()
style_axis(ay_top, FixedTicker(ticks=sun_yticks, minor_ticks=[]), 17, 0, 1.3)
top.add_layout(ay_top, "right")

sw, sf = pair(sun_wl, sun_flux)
top.line(sw, sf, line_color="#2a2a2a", line_width=1.1, line_join="round")

top.add_layout(Label(x=4570, y=0.276, text="Sun G2V ~4.6 Gyr", text_align="right",
                     text_baseline="alphabetic", text_font="Open Sans", text_font_size="34px",
                     text_color="black"))
top.add_layout(Label(x=4574.5, y=0.108, text="Delbouille L., Neven L., Roland G. (1972)",
                     text_align="right", text_baseline="alphabetic", text_font="Open Sans",
                     text_font_size="22.5px", text_color="#222222"))

# ---------------- BOTTOM PANEL (stars) ----------------
bot = figure(width=995, height=704, x_range=Range1d(3800, 4600), y_range=Range1d(-2.02, 1.5),
             output_backend="svg", toolbar_location=None,
             min_border_left=88, min_border_right=27, min_border_top=0, min_border_bottom=85,
             outline_line_color=None, background_fill_color="white", border_fill_color="white",
             border_fill_alpha=0.0,
             styles={"background": "linear-gradient(to right, #f2f2f2 0px, #f2f2f2 18px, #ffffff 18px, #ffffff 100%)"})
bot.xgrid.grid_line_color = None
bot.ygrid.grid_line_color = None
xa = bot.xaxis[0]
style_axis(xa, SingleIntervalTicker(interval=x_ticks_major, num_minor_ticks=x_ticks_minor), 10, 5, 2,
           font_size="23px", standoff=5)
xa.axis_label = "Wavelength (Å)"
xa.axis_label_text_font = "Liberation Sans"
xa.axis_label_text_font_size = "31px"
xa.axis_label_text_font_style = "normal"
xa.axis_label_text_color = INK
xa.axis_label_standoff = 12
ya = bot.yaxis[0]
style_axis(ya, SingleIntervalTicker(interval=1, num_minor_ticks=5), 9, 9, 2,
           font_size="23px", standoff=12)
ya.axis_label = "Normalized Intensity"
ya.axis_label_text_font = "Liberation Sans"
ya.axis_label_text_font_size = "30px"
ya.axis_label_text_font_style = "normal"
ya.axis_label_text_color = INK
ya.axis_label_standoff = 10
ax_b = LinearAxis()
style_axis(ax_b, SingleIntervalTicker(interval=x_ticks_major, num_minor_ticks=x_ticks_minor), 10, 3, 1.5,
           line=False)
bot.add_layout(ax_b, "above")
ay_b = LinearAxis()
style_axis(ay_b, SingleIntervalTicker(interval=1, num_minor_ticks=5), 9, 9, 2)
bot.add_layout(ay_b, "right")

series = [
    (ek_blue_wl + red_wl, ek_blue_flux + ek_red_flux),
    (hd_blue_wl + red_wl, hd_blue_flux + hd_red_flux),
    (sco_blue_wl + red_wl, sco_blue_flux + sco_red_flux),
    (aur_blue_wl + red_wl, aur_blue_flux + aur_red_flux),
]
for w, f in series:
    w2, f2 = pair(w, f)
    bot.line(w2, f2, line_color=INK, line_width=2.6, line_join="round")

# Ca II bracket
bot.line([caii_wl[0], caii_wl[0], caii_wl[1], caii_wl[1]], [0.975, 1.10, 1.10, 0.975],
         line_color="#777777", line_width=1.2)
bot.add_layout(Label(x=(caii_wl[0] + caii_wl[1]) / 2, y=1.194, text="Ca II K & H",
                     text_align="center", text_baseline="middle", text_font="Liberation Sans",
                     text_font_size="20px", text_color=INK))

# highlight box around 18 Sco
bot.add_layout(BoxAnnotation(left=4404.5, right=4531.8, top=-0.696, bottom=-1.043,
                             fill_color=None, fill_alpha=0, line_color="#52c2cf",
                             line_alpha=1.0, line_width=4.5, border_radius=10))

name_pos = [(4400.0, 0.556), (4415.5, -0.128), (4417.3, -0.790), (4412.7, -1.535)]
age_pos = [(4413.0, 0.442), (4427.3, -0.255), (4428.2, -0.910), (4425.5, -1.655)]
for (nx, ny), (axx, ayy), nm, ag in zip(name_pos, age_pos, star_names, star_ages):
    bot.add_layout(Label(x=nx, y=ny, text=nm, text_align="left", text_baseline="middle",
                         text_font="Liberation Sans", text_font_size="19.5px", text_color=INK))
    bot.add_layout(Label(x=axx, y=ayy, text=ag, text_align="left", text_baseline="middle",
                         text_font="Liberation Sans", text_font_size="19.5px", text_color=INK))

# ---------------- PAGE LAYOUT ----------------
band_top = Div(text="", width=995, height=8, margin=(0, 0, 0, 0),
               styles={"background-color": "black"})
band_left = Div(text="", width=7, height=220, margin=(0, 0, 0, 0),
                styles={"background-color": "black"})
layout = column(band_top, row(band_left, top, margin=(0, 0, 0, 0)), bot, margin=(0, 0, 0, 0))

open("out.html", "w").write(file_html(layout, INLINE))
